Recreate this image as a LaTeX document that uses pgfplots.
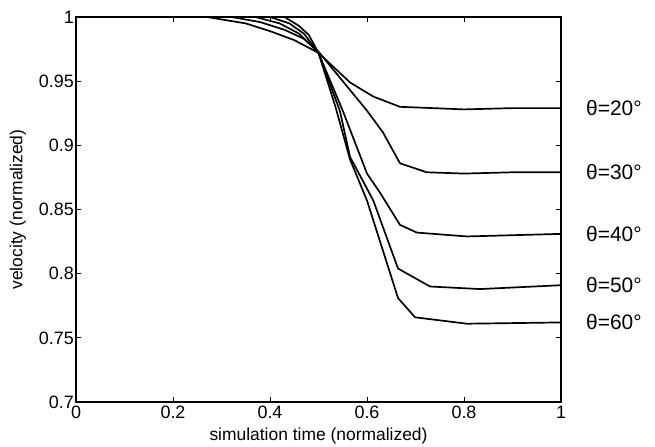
\documentclass[border=0pt]{standalone}
\usepackage{pgfplots}
\pgfplotsset{compat=1.18}
\usepackage{fontspec}
\setmainfont{Liberation Sans}
\newcommand\tl[1]{\fontsize{18}{20}\selectfont #1}

\begin{document}
\begin{tikzpicture}
\begin{axis}[
    at={(0,0)}, anchor=south west,
    scale only axis,
    width=485bp, height=385bp,
    xmin=0, xmax=1, ymin=0.7, ymax=1,
    xtick={0,0.2,0.4,0.6,0.8,1},
    ytick={0.7,0.75,0.8,0.85,0.9,0.95,1},
    xticklabels={\tl{0},\tl{0.2},\tl{0.4},\tl{0.6},\tl{0.8},\tl{1}},
    yticklabels={\tl{0.7},\tl{0.75},\tl{0.8},\tl{0.85},\tl{0.9},\tl{0.95},\tl{1}},
    tick align=inside,
    major tick length=5bp,
    axis line style={line width=1.6pt},
    tick style={line width=1pt, black},
    xticklabel style={inner sep=1bp, yshift=-3bp},
    yticklabel style={inner sep=1bp, xshift=-1bp},
    xlabel={simulation time (normalized)},
    ylabel={velocity (normalized)},
    label style={font=\fontsize{17.5}{19}\selectfont},
    xlabel style={at={(axis description cs:0.5,-0.088)}, anchor=center},
    ylabel style={at={(axis description cs:-0.12,0.5)}, anchor=center},
    clip=false,
]
% theta = 20
\addplot[black, line width=1.7pt, line join=round, no marks] coordinates {(0,1) (0.27,1) (0.35,0.995) (0.40,0.989) (0.45,0.982) (0.5,0.972)
  (0.565,0.949) (0.613,0.938) (0.668,0.930) (0.736,0.929) (0.8,0.928) (0.9,0.929) (1,0.929)};
% theta = 30
\addplot[black, line width=1.7pt, line join=round, no marks] coordinates {(0,1) (0.32,1) (0.38,0.996) (0.43,0.990) (0.47,0.983) (0.5,0.973)
  (0.55,0.950) (0.6,0.927) (0.633,0.910) (0.668,0.886) (0.723,0.879) (0.8,0.878) (0.9,0.879) (1,0.879)};
% theta = 40
\addplot[black, line width=1.7pt, line join=round, no marks] coordinates {(0,1) (0.37,1) (0.42,0.995) (0.46,0.987) (0.5,0.972)
  (0.55,0.927) (0.6,0.878) (0.627,0.863) (0.668,0.838) (0.703,0.832) (0.806,0.829) (1,0.831)};
% theta = 50
\addplot[black, line width=1.7pt, line join=round, no marks] coordinates {(0,1) (0.40,1) (0.44,0.995) (0.47,0.987) (0.5,0.972)
  (0.544,0.927) (0.565,0.891) (0.613,0.857) (0.664,0.804) (0.73,0.790) (0.833,0.788) (1,0.791)};
% theta = 60
\addplot[black, line width=1.7pt, line join=round, no marks] coordinates {(0,1) (0.43,1) (0.46,0.993) (0.48,0.986) (0.5,0.972)
  (0.535,0.930) (0.565,0.889) (0.6,0.857) (0.664,0.781) (0.699,0.766) (0.806,0.761) (1,0.762)};

\begin{scope}[every node/.style={anchor=west, font=\fontsize{21}{23}\selectfont, inner sep=0pt}]
\node at (axis cs:1,0.929) [xshift=25bp] {θ=20°};
\node at (axis cs:1,0.879) [xshift=25bp] {θ=30°};
\node at (axis cs:1,0.831) [xshift=25bp] {θ=40°};
\node at (axis cs:1,0.791) [xshift=25bp] {θ=50°};
\node at (axis cs:1,0.762) [xshift=25bp] {θ=60°};
\end{scope}
\end{axis}
\pgfresetboundingbox
\path (-76bp,-45bp) rectangle (579bp,402bp);
\end{tikzpicture}
\end{document}
